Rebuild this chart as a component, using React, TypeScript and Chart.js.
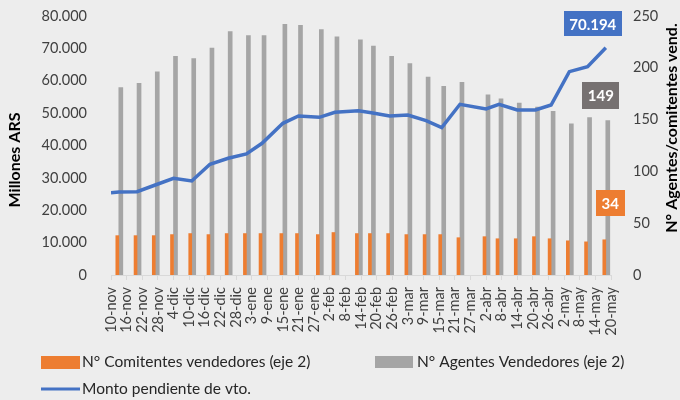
import React, { useEffect, useRef } from "react";
import { Chart, registerables } from "chart.js";

Chart.register(...registerables);

// X tick labels every 6 days starting on 10-nov (day 0)
const xTickLabels = [
  "10-nov", "16-nov", "22-nov", "28-nov", "4-dic", "10-dic", "16-dic", "22-dic", "28-dic",
  "3-ene", "9-ene", "15-ene", "21-ene", "27-ene", "2-feb", "8-feb", "14-feb", "20-feb", "26-feb",
  "3-mar", "9-mar", "15-mar", "21-mar", "27-mar", "2-abr", "8-abr", "14-abr", "20-abr", "26-abr",
  "2-may", "8-may", "14-may", "20-may",
];

// Days since 10-nov for each weekly bar group
const barDays = [
  3, 10, 17, 24, 31, 38, 45, 52, 58, 66, 72, 80, 86, 95, 100, 107, 114, 121, 127, 134,
  144, 149, 156, 163, 169, 176, 183, 190,
];

// N° Comitentes vendedores (eje 2)
const comitentes = [
  38, 38, 38, 39, 40, 39, 40, 40, 40, 40, 40, 39, 41, 40, 40, 40, 39, 39, 39, 36,
  37, 35, 35, 37, 35, 33, 32, 34,
];

// N° Agentes Vendedores (eje 2)
const agentes = [
  181, 185, 196, 211, 209, 219, 235, 231, 231, 242, 241, 237, 230, 227, 221, 211, 204, 191, 182, 186,
  174, 170, 166, 162, 158, 146, 152, 149,
];

// Monto pendiente de vto. (Millones ARS)
const lineDays = [
  0, 3, 10, 17, 24, 31, 38, 45, 52, 58, 66, 72, 80, 86, 95, 100, 107, 114, 121, 127, 134,
  144, 149, 156, 163, 169, 176, 183, 190,
];
const montoPendiente = [
  25400, 25600, 25730, 27800, 29870, 29040, 34200, 36050, 37380, 40680, 46860, 49120, 48710, 50260,
  50750, 50130, 49120, 49420, 47660, 45500, 52730, 51280, 52730, 50970, 50970, 52510, 62800, 64350, 70194,
];

const leftTicks = [0, 10000, 20000, 30000, 40000, 50000, 60000, 70000, 80000];

const FONT = "Lato, 'Open Sans', sans-serif";
const ORANGE = "#ED7D31";
const GRAY = "#A5A5A5";
const BLUE = "#4472C4";
const BG = "#EDEDED";
const TEXT = "#404040";

const fmt = (v: number) => String(Math.round(v)).replace(/\B(?=(\d{3})+(?!\d))/g, ".");

const decor = {
  id: "decor",
  beforeDraw(chart: any) {
    const { ctx, width, height } = chart;
    ctx.save();
    ctx.fillStyle = BG;
    ctx.fillRect(0, 0, width, height);
    ctx.restore();
  },
  afterDraw(chart: any) {
    const ctx = chart.ctx;
    ctx.save();
    // axis titles
    ctx.fillStyle = "#000";
    ctx.font = `bold 16px ${FONT}`;
    ctx.textAlign = "center";
    ctx.textBaseline = "middle";
    ctx.save();
    ctx.translate(15, 160);
    ctx.rotate(-Math.PI / 2);
    ctx.fillText("Millones ARS", 0, 0);
    ctx.restore();
    ctx.save();
    ctx.translate(672, 128);
    ctx.rotate(-Math.PI / 2);
    ctx.fillText("N° Agentes/comitentes vend.", 0, 0);
    ctx.restore();

    // data labels for last points
    const box = (text: string, cx: number, cy: number, w: number, h: number, bg: string) => {
      ctx.fillStyle = bg;
      ctx.fillRect(Math.round(cx - w / 2), Math.round(cy - h / 2), w, h);
      ctx.fillStyle = "#fff";
      ctx.font = `bold 15px ${FONT}`;
      ctx.textAlign = "center";
      ctx.textBaseline = "middle";
      ctx.fillText(text, cx, cy + 1);
    };
    const lineMeta = chart.getDatasetMeta(0);
    const orMeta = chart.getDatasetMeta(1);
    const grMeta = chart.getDatasetMeta(2);
    const lp = lineMeta.data[lineMeta.data.length - 1];
    const op = orMeta.data[orMeta.data.length - 1];
    const gp = grMeta.data[grMeta.data.length - 1];
    if (lp) box(fmt(montoPendiente[montoPendiente.length - 1]), lp.x - 13, lp.y - 24, 58, 25, BLUE);
    if (gp) box(String(agentes[agentes.length - 1]), gp.x - 7, gp.y - 25, 37, 27, "#767171");
    if (op) box(String(comitentes[comitentes.length - 1]), op.x + 6, op.y - 37, 29, 26, ORANGE);

    // legend
    ctx.font = `15.5px ${FONT}`;
    ctx.textAlign = "left";
    ctx.textBaseline = "middle";
    ctx.fillStyle = ORANGE;
    ctx.fillRect(41, 356, 39, 13);
    ctx.fillStyle = GRAY;
    ctx.fillRect(375, 356, 38, 12);
    ctx.strokeStyle = BLUE;
    ctx.lineWidth = 3;
    ctx.beginPath();
    ctx.moveTo(41, 389);
    ctx.lineTo(80, 389);
    ctx.stroke();
    ctx.fillStyle = "#262626";
    ctx.fillText(chart.data.datasets[1].label, 82, 362);
    ctx.fillText(chart.data.datasets[2].label, 417, 362);
    ctx.fillText(chart.data.datasets[0].label, 82, 389);
    ctx.restore();
  },
};

export default function App() {
  const ref = useRef<HTMLCanvasElement | null>(null);

  useEffect(() => {
    document.body.style.margin = "0";
    document.body.style.background = BG;
    const canvas = ref.current;
    if (!canvas) return;
    const chart = new Chart(canvas, {
      type: "bar",
      data: {
        datasets: [
          {
            type: "line",
            label: "Monto pendiente de vto.",
            data: lineDays.map((d, i) => ({ x: d, y: montoPendiente[i] })),
            borderColor: BLUE,
            backgroundColor: BLUE,
            borderWidth: 3.5,
            pointRadius: 0,
            tension: 0,
            yAxisID: "y",
            order: 0,
          } as any,
          {
            type: "bar",
            label: "N° Comitentes vendedores (eje 2)",
            data: barDays.map((d, i) => ({ x: d, y: comitentes[i] })),
            backgroundColor: ORANGE,
            barThickness: 3,
            yAxisID: "y1",
            order: 1,
          },
          {
            type: "bar",
            label: "N° Agentes Vendedores (eje 2)",
            data: barDays.map((d, i) => ({ x: d, y: agentes[i] })),
            backgroundColor: GRAY,
            barThickness: 4,
            yAxisID: "y1",
            order: 1,
          },
        ],
      },
      options: {
        responsive: false,
        animation: false,
        events: [],
        layout: { padding: { top: 16, bottom: 60, left: 0, right: 0 } },
        plugins: { legend: { display: false }, tooltip: { enabled: false } },
        scales: {
          x: {
            type: "linear",
            min: 0,
            max: 192,
            offset: false,
            grid: { display: true, drawOnChartArea: false, drawTicks: true, tickLength: 5, color: "#D9D9D9", offset: false },
            border: { display: true, color: "#D9D9D9" },
            ticks: {
              stepSize: 6,
              autoSkip: false,
              maxRotation: 90,
              minRotation: 90,
              padding: 7,
              color: TEXT,
              font: { family: FONT, size: 14.5 },
              callback: (v: any) => xTickLabels[Math.round(Number(v) / 6)] ?? "",
            },
            afterFit: (s: any) => {
              s.height = 65;
              s.paddingLeft = 0;
              s.paddingRight = 0;
            },
          },
          y: {
            type: "linear",
            position: "left",
            min: 0,
            max: 80000,
            grid: { display: false },
            border: { display: false },
            afterBuildTicks: (s: any) => {
              s.ticks = leftTicks.map((v) => ({ value: v }));
            },
            ticks: {
              padding: 16,
              color: TEXT,
              font: { family: FONT, size: 14.5 },
              callback: (v: any) => fmt(Number(v)),
            },
            afterFit: (s: any) => {
              s.width = 111;
              s.paddingTop = 0;
              s.paddingBottom = 0;
            },
          },
          y1: {
            type: "linear",
            position: "right",
            min: 0,
            max: 250,
            grid: { display: false },
            border: { display: false },
            ticks: {
              stepSize: 50,
              padding: 14,
              color: TEXT,
              font: { family: FONT, size: 14.5 },
            },
            afterFit: (s: any) => {
              s.width = 69;
              s.paddingTop = 0;
              s.paddingBottom = 0;
            },
          },
        },
      } as any,
      plugins: [decor],
    });
    return () => chart.destroy();
  }, []);

  return (
    <div style={{ width: 680, height: 400 }}>
      <canvas ref={ref} width={680} height={400} style={{ display: "block" }} />
    </div>
  );
}
